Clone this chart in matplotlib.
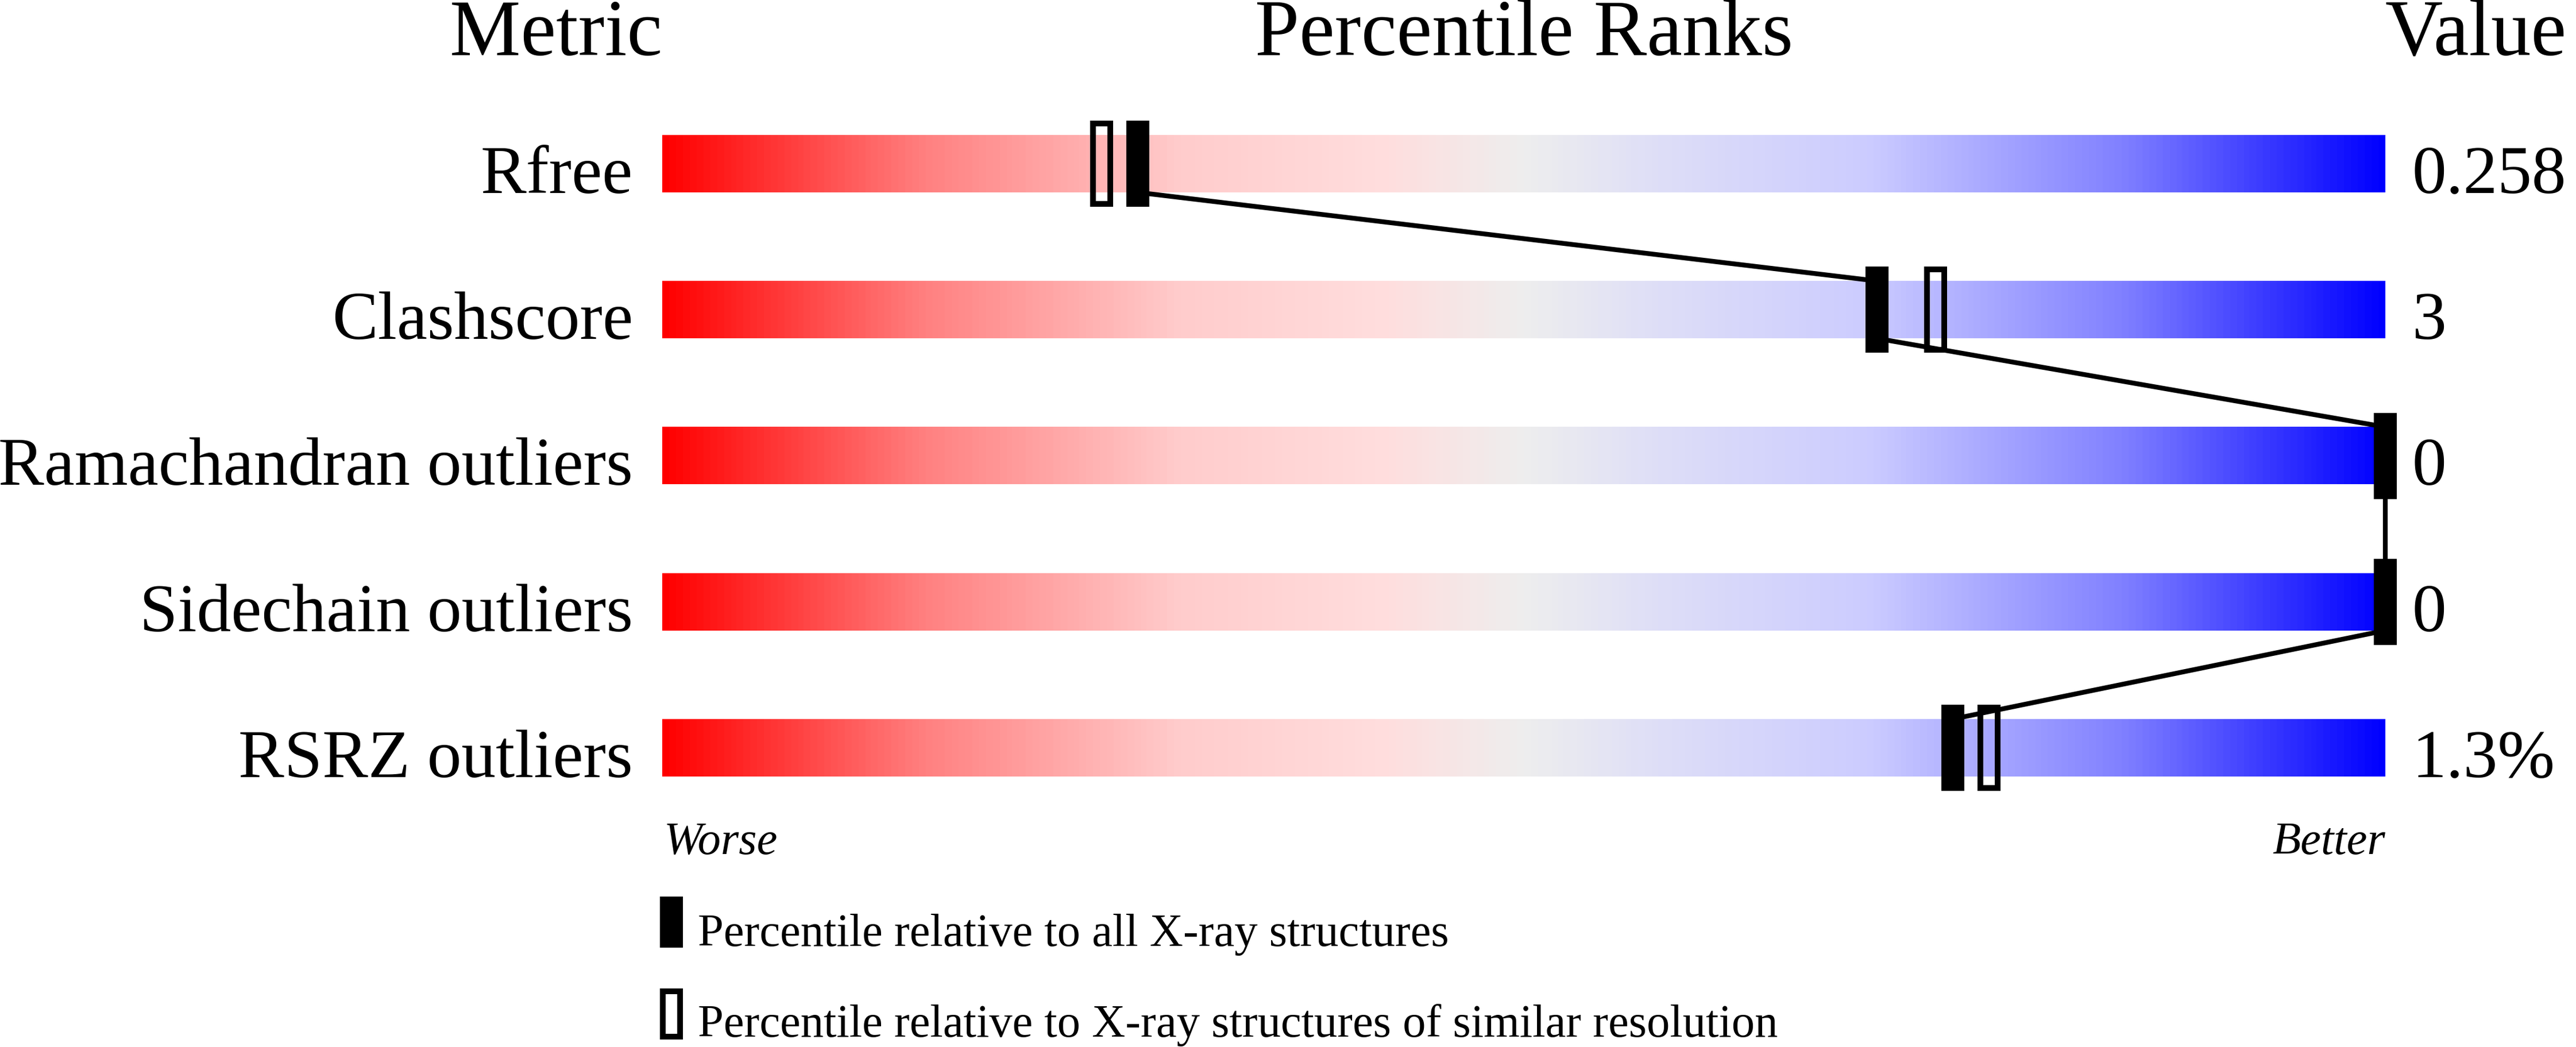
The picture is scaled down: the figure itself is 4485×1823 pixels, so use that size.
import numpy as np
import matplotlib
matplotlib.use("Agg")
import matplotlib.pyplot as plt
from matplotlib.colors import LinearSegmentedColormap
from matplotlib.patches import Rectangle
from matplotlib import transforms

plt.rcParams['font.family'] = ['Liberation Serif', 'DejaVu Serif']

# data
metrics = ["Rfree", "Clashscore", "Ramachandran outliers", "Sidechain outliers", "RSRZ outliers"]
values = ["0.258", "3", "0", "0", "1.3%"]
pct_all = [27.6, 70.5, 100, 100, 74.9]       # filled marker
pct_similar = [25.5, 73.9, 100, 100, 77.0]   # open marker

W, H, DPI = 4485, 1824, 100
fig = plt.figure(figsize=(W / DPI, H / DPI), dpi=DPI)

# slider area in pixels: x 1153..4153, rows centred 286..1303
row_px = 254.25
x0, x1 = 1153, 4153
top = 286 - row_px / 2
n = len(metrics)
ax = fig.add_axes([x0 / W, 1 - (top + n * row_px) / H, (x1 - x0) / W, n * row_px / H])
ax.set_xlim(0, 100)
ax.set_ylim(n - 0.5, -0.5)
ax.axis('off')

px_x = 100 / (x1 - x0)      # percentile units per pixel
px_y = 1 / row_px           # row units per pixel
bar_h = 100 * px_y
mk_h = 150 * px_y

cmap = LinearSegmentedColormap.from_list("slider", [
    (0.0, (1.0, 0.0, 0.0)),
    (0.15, (1.0, 0.50, 0.50)),
    (0.30, (1.0, 0.80, 0.80)),
    (0.42, (1.0, 0.87, 0.87)),
    (0.5, (0.933, 0.933, 0.933)),
    (0.58, (0.87, 0.87, 0.97)),
    (0.70, (0.80, 0.80, 1.0)),
    (0.85, (0.50, 0.50, 1.0)),
    (1.0, (0.0, 0.0, 1.0)),
], N=256)
grad = np.linspace(0, 1, 1000).reshape(1, -1)

for i in range(n):
    ax.imshow(grad, cmap=cmap, aspect='auto', interpolation='nearest',
              extent=(0, 100, i + bar_h / 2, i - bar_h / 2), zorder=1)

# connecting line between filled markers
for i in range(n - 1):
    ax.plot([pct_all[i], pct_all[i + 1]], [i + bar_h / 2, i + 1 - bar_h / 2],
            color='black', lw=6, solid_capstyle='butt', zorder=2, clip_on=False)

for i in range(n):
    ax.add_patch(Rectangle((pct_similar[i] - 15 * px_x, i - 70 * px_y), 30 * px_x, 140 * px_y,
                           facecolor='none', edgecolor='black', lw=7.2, zorder=3, clip_on=False))
    ax.add_patch(Rectangle((pct_all[i] - 20 * px_x, i - mk_h / 2), 40 * px_x, mk_h,
                           facecolor='black', edgecolor='none', zorder=4, clip_on=False))

# labels and values, baseline on the bar bottom
tr = transforms.blended_transform_factory(fig.transFigure, ax.transData)
for i in range(n):
    ax.text(1102 / W, i + bar_h / 2, metrics[i], transform=tr, ha='right', va='baseline', fontsize=86)
    ax.text(4200 / W, i + bar_h / 2, values[i], transform=tr, ha='left', va='baseline', fontsize=86)

# headers
fig.text(1153 / W, 1 - 96 / H, "Metric", ha='right', va='baseline', fontsize=100)
fig.text(2653 / W, 1 - 96 / H, "Percentile Ranks", ha='center', va='baseline', fontsize=100)
fig.text(4153 / W, 1 - 96 / H, "Value", ha='left', va='baseline', fontsize=100)

fig.text(1156 / W, 1 - 1487 / H, "Worse", ha='left', va='baseline', fontsize=58, style='italic')
fig.text(4153 / W, 1 - 1487 / H, "Better", ha='right', va='baseline', fontsize=58, style='italic')

# legend
fig.patches.append(Rectangle((1149 / W, 1 - 1651 / H), 40 / W, 89 / H, facecolor='black',
                             edgecolor='none', transform=fig.transFigure))
fig.patches.append(Rectangle((1154 / W, 1 - 1806 / H), 30 / W, 79 / H, facecolor='none',
                             edgecolor='black', lw=7.2, transform=fig.transFigure))
fig.text(1215 / W, 1 - 1647 / H, "Percentile relative to all X-ray structures",
         ha='left', va='baseline', fontsize=58)
fig.text(1215 / W, 1 - 1805 / H, "Percentile relative to X-ray structures of similar resolution",
         ha='left', va='baseline', fontsize=58)

fig.savefig("out.png", dpi=DPI)
